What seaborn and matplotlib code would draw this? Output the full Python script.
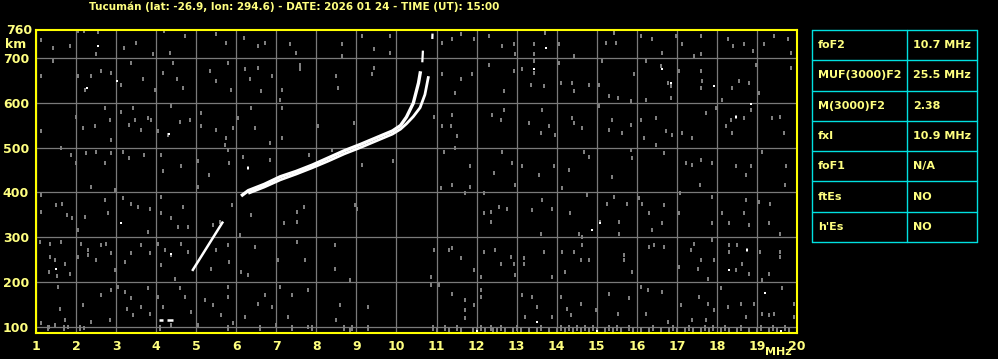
import matplotlib
matplotlib.use("Agg")
import matplotlib.pyplot as plt
import seaborn as sns
import pandas as pd
from matplotlib.lines import Line2D

sns.set_theme(style="ticks", rc={"axes.facecolor": "black", "figure.facecolor": "black"})
plt.rcParams["font.family"] = ["DejaVu Sans"]

TITLE = "Tucumán (lat: -26.9, lon: 294.6) - DATE: 2026 01 24 - TIME (UT): 15:00"
x_ticks = list(range(1, 21))
y_ticks = [100, 200, 300, 400, 500, 600, 700]

# ordinary (O) trace
o_freq = [6.12, 6.3, 6.7, 7.1, 7.5, 7.9, 8.3, 8.7, 9.1, 9.5, 9.9, 10.1, 10.25, 10.42, 10.55, 10.6]
o_km = [392, 404, 418, 435, 447, 461, 477, 493, 507, 522, 537, 549, 568, 599, 644, 670]
o_top_freq = [10.645, 10.66]
o_top_km = [690, 716]
# extraordinary (X) trace
x_freq = [6.3, 6.7, 7.1, 7.5, 7.9, 8.3, 8.7, 9.1, 9.5, 9.9, 10.1, 10.25, 10.42, 10.59, 10.71, 10.8]
x_km = [398, 412, 428, 441, 455, 470, 486, 500, 515, 530, 541, 553, 569, 589, 618, 659]
x_top_freq = [10.895, 10.9]
x_top_km = [742, 754]
# lower layer trace
low_freq = [4.9, 5.67]
low_km = [225, 335]
# small echoes near 115 km
dash1_freq = [4.08, 4.17]
dash1_km = [116, 116]
dash2_freq = [4.27, 4.42]
dash2_km = [116, 116]

# background speckle
noise_top_left = [
    (1.13, 740), (1.43, 722), (1.84, 726), (2.05, 760), (2.2, 760), (2.55, 757), (2.5, 709), (3.2, 722),
    (3.5, 733), (3.93, 709), (4.2, 760), (4.35, 710), (4.72, 749), (5.5, 752), (5.75, 733), (6.2, 745),
    (6.55, 726), (6.72, 733), (7.35, 730), (7.5, 711), (8.65, 730), (8.65, 704), (9.15, 748), (9.45, 719),
    (9.85, 748), (9.85, 711),
    (1.13, 659), (1.43, 693), (2.05, 659), (2.22, 629), (2.38, 659), (2.63, 670), (2.88, 667), (3.13, 640),
    (3.38, 689), (3.68, 652), (3.97, 629), (4.18, 667), (4.43, 689), (4.52, 652), (4.68, 633), (5.35, 670),
    (5.5, 648), (5.8, 689), (5.88, 629), (6.22, 674), (6.35, 652), (6.55, 678), (6.63, 625), (6.88, 659),
    (7.13, 629), (7.6, 685), (7.6, 674), (8.5, 659), (8.55, 633), (9.43, 678), (9.38, 663), (7.1, 606),
    (1.13, 536), (2.0, 569), (2.17, 543), (2.47, 547), (2.72, 588), (2.85, 562), (2.88, 517), (3.13, 580),
    (3.42, 588), (3.47, 562), (3.33, 551), (3.63, 539), (3.8, 565), (3.88, 562), (4.05, 536), (4.3, 528),
    (4.38, 592), (4.6, 558), (4.85, 562), (5.13, 577), (5.13, 547), (5.5, 539), (5.75, 521), (5.72, 506),
    (5.92, 543), (6.05, 565), (6.47, 543), (6.38, 588), (6.85, 510), (7.13, 521), (7.13, 588), (8.05, 547),
    (8.93, 554),
    (1.63, 499), (1.88, 484), (2.0, 465), (2.25, 487), (2.5, 490), (2.72, 465), (2.88, 487), (3.17, 490),
    (3.33, 476), (3.7, 484), (4.13, 484), (4.17, 447), (4.63, 458), (5.05, 469), (5.33, 439), (5.83, 465),
    (5.8, 495), (6.18, 480), (6.3, 454), (6.85, 472), (7.82, 484), (8.38, 495), (9.13, 461), (9.92, 469),
]
noise_top_right = [
    (11.13, 733), (11.38, 741), (11.6, 752), (11.93, 741), (12.3, 748), (12.63, 726), (12.93, 730),
    (12.97, 708), (13.43, 730), (13.43, 708), (13.72, 756), (14.05, 730), (14.43, 704), (15.22, 733),
    (15.47, 733), (15.43, 756), (16.1, 748), (16.38, 741), (16.63, 711), (16.97, 748), (17.13, 730),
    (17.43, 704), (17.6, 748), (17.6, 708), (18.27, 741), (18.4, 726), (18.68, 730), (18.9, 715),
    (19.18, 730), (19.43, 748), (19.77, 741), (19.85, 711),
    (11.13, 663), (11.6, 652), (11.88, 663), (11.47, 622), (12.3, 685), (12.68, 625), (12.93, 670),
    (13.13, 674), (13.35, 640), (13.43, 693), (13.43, 667), (13.68, 637), (14.05, 689), (14.1, 644),
    (14.38, 644), (14.43, 625), (14.8, 640), (15.05, 640), (15.13, 693), (15.3, 614), (15.52, 610),
    (15.85, 603), (15.93, 663), (16.22, 693), (16.22, 606), (16.6, 681), (16.77, 644), (16.85, 637),
    (16.85, 610), (17.05, 670), (17.6, 670), (17.63, 648), (17.6, 633), (18.38, 633), (18.55, 648),
    (18.8, 644), (18.97, 685), (19.05, 622), (19.85, 678), (18.13, 606),
    (10.93, 569), (11.13, 547), (11.35, 547), (11.38, 573), (11.5, 525), (12.38, 573), (12.6, 562),
    (12.68, 584), (13.3, 554), (13.63, 584), (13.8, 547), (13.6, 532), (13.97, 528), (14.38, 565),
    (14.43, 554), (14.63, 543), (15.05, 592), (15.38, 562), (15.3, 539), (15.63, 532), (15.85, 551),
    (16.1, 562), (16.18, 521), (16.47, 565), (16.72, 536), (16.88, 528), (17.13, 532), (17.38, 521),
    (17.72, 577), (17.97, 588), (18.22, 547), (18.35, 562), (18.47, 569), (18.38, 532), (18.68, 565),
    (18.85, 584), (19.38, 565), (19.58, 569), (19.67, 532),
    (11.18, 490), (11.47, 498), (11.84, 458), (12.43, 443), (12.63, 490), (12.88, 465), (13.13, 458),
    (13.55, 439), (13.93, 458), (14.3, 450), (14.68, 490), (14.8, 480), (15.38, 435), (15.85, 495),
    (15.88, 476), (16.47, 506), (16.68, 487), (17.22, 465), (17.38, 461), (17.6, 472), (17.88, 465),
    (18.47, 458), (18.72, 439), (18.85, 458), (19.13, 490), (19.72, 458),
]
noise_bottom_left = [
    (1.13, 394), (1.13, 357), (1.5, 372), (1.65, 375), (1.78, 350), (1.9, 342), (2.05, 316), (2.22, 346),
    (2.38, 413), (2.72, 383), (2.8, 353), (2.97, 405), (3.18, 387), (3.38, 375), (3.55, 368), (3.84, 364),
    (3.8, 312), (4.13, 390), (4.13, 353), (4.38, 342), (4.55, 323), (4.68, 368), (4.8, 323), (5.05, 413),
    (5.43, 327), (5.6, 335), (5.9, 372), (6.1, 305), (6.38, 350), (7.18, 331), (7.52, 357), (7.52, 335),
    (7.68, 368), (8.97, 372), (9.02, 364),
    (1.1, 290), (1.35, 286), (1.35, 256), (1.32, 223), (1.48, 249), (1.52, 214), (1.63, 290), (1.72, 241),
    (1.85, 219), (2.05, 256), (2.13, 286), (2.3, 271), (2.3, 260), (2.5, 249), (2.63, 282), (2.75, 286),
    (2.88, 264), (2.97, 227), (3.22, 245), (3.38, 264), (3.63, 282), (3.84, 264), (4.05, 286), (4.13, 238),
    (4.22, 271), (4.38, 260), (4.47, 208), (4.63, 286), (4.8, 268), (5.38, 230), (5.5, 271), (5.8, 282),
    (5.83, 245), (6.13, 223), (6.3, 215), (6.47, 279), (7.05, 249), (7.72, 249), (7.52, 290), (8.47, 282),
    (8.47, 230), (8.83, 204),
    (1.13, 108), (1.32, 100), (1.48, 104), (1.55, 190), (1.6, 141), (1.72, 115), (1.8, 100), (2.17, 149),
    (2.2, 97), (2.38, 111), (2.63, 171), (2.88, 183), (2.85, 115), (3.05, 190), (3.22, 179), (3.27, 141),
    (3.38, 164), (3.42, 126), (3.63, 145), (3.8, 186), (3.84, 130), (4.05, 167), (4.17, 145), (4.38, 104),
    (4.6, 186), (4.72, 167), (4.88, 134), (5.05, 104), (5.22, 160), (5.43, 149), (5.63, 126), (5.8, 190),
    (5.8, 167), (5.92, 108), (6.22, 123), (6.55, 152), (6.72, 171), (6.88, 145), (7.0, 104), (7.08, 190),
    (7.3, 123), (7.38, 171), (7.8, 100), (7.8, 183), (8.5, 115), (8.58, 149), (9.3, 145), (8.83, 93),
]
noise_bottom_right = [
    (11.1, 409), (11.38, 416), (11.84, 413), (11.72, 398), (12.18, 398), (12.18, 353), (12.35, 357),
    (12.35, 335), (12.55, 368), (12.77, 364), (12.97, 416), (13.38, 361), (13.63, 383), (13.6, 308),
    (13.88, 364), (14.13, 409), (14.33, 353), (14.55, 308), (14.63, 301), (14.75, 394), (15.08, 335),
    (15.25, 375), (15.42, 390), (15.55, 335), (15.55, 308), (15.75, 375), (16.05, 387), (16.13, 375),
    (16.3, 353), (16.38, 316), (16.63, 331), (16.67, 372), (17.05, 353), (17.08, 398), (17.58, 416),
    (17.88, 390), (17.88, 331), (17.88, 294), (18.13, 353), (18.3, 331), (18.68, 353), (18.72, 383),
    (18.8, 327), (19.05, 379), (19.3, 331), (19.33, 375), (19.58, 308), (19.7, 416),
    (10.85, 212), (10.93, 271), (11.3, 271), (11.38, 275), (11.6, 253), (11.93, 227), (12.1, 212),
    (12.18, 268), (12.47, 271), (12.6, 241), (12.85, 256), (12.93, 241), (12.97, 215), (13.18, 253),
    (13.18, 241), (13.68, 268), (13.88, 212), (14.13, 268), (14.22, 223), (14.43, 268), (14.6, 249),
    (14.63, 282), (14.8, 249), (15.68, 260), (15.68, 249), (15.88, 223), (16.3, 279), (16.43, 282),
    (16.67, 279), (17.05, 234), (17.35, 271), (17.43, 286), (17.52, 230), (17.6, 249), (17.77, 208),
    (17.93, 249), (18.3, 282), (18.3, 268), (18.5, 282), (18.75, 271), (18.63, 241), (18.47, 227),
    (18.8, 219), (19.08, 268), (19.13, 204), (19.3, 219), (19.58, 268), (19.58, 256),
    (10.85, 193), (11.05, 193), (11.38, 174), (11.72, 160), (11.72, 137), (11.72, 119), (11.93, 149),
    (12.1, 182), (12.1, 167), (13.13, 171), (13.38, 167), (13.5, 145), (13.22, 123), (13.88, 123),
    (14.1, 167), (14.27, 141), (14.35, 126), (14.6, 152), (14.97, 137), (15.3, 174), (15.52, 130),
    (15.8, 164), (16.1, 190), (16.22, 130), (16.27, 182), (16.63, 179), (16.77, 111), (17.1, 149),
    (17.38, 115), (17.55, 167), (17.72, 115), (17.77, 152), (17.93, 137), (18.1, 186), (18.27, 145),
    (18.6, 152), (18.72, 123), (18.93, 152), (19.13, 130), (19.3, 126), (19.43, 130), (19.63, 186),
    (19.92, 152), (19.92, 123),
]
floor_freq_a = [11.0, 11.3, 11.6, 11.9, 12.0, 12.2, 12.4, 12.5, 12.7, 12.9, 13.1, 13.3, 13.5, 13.8, 14.0,
                14.2, 14.4, 14.6, 14.8, 15.0, 15.2, 15.4, 15.6, 15.9, 16.1, 16.3, 16.6, 16.8, 17.0, 17.2,
                17.4, 17.6, 17.8, 18.1, 18.3, 18.5, 18.8, 19.0, 19.3, 19.5, 19.8]
floor_freq_b = [1.3, 1.7, 2.1, 4.1, 5.8, 6.6, 7.4, 7.9, 8.7, 8.9, 9.3, 10.9, 11.2, 11.5, 12.1, 12.35,
                12.6, 13.0, 13.6, 14.1, 14.3, 14.5, 14.7, 14.9, 15.3, 15.5, 15.8, 16.4, 16.9, 17.3,
                17.7, 17.9, 18.2, 18.6, 19.1, 19.4, 19.7]
bright_points = [
    (2.55, 726), (3.03, 648), (2.27, 633), (4.33, 530), (6.3, 454), (3.13, 332), (4.38, 262), (1.5, 230),
    (13.74, 722), (13.44, 674), (16.63, 674), (16.85, 644), (17.94, 638), (18.84, 598), (18.48, 567),
    (15.08, 332), (14.88, 317), (18.75, 271), (18.3, 228), (19.2, 176), (13.5, 111), (12.0, 90), (15.0, 92),
    (19.6, 90),
]

table_labels = ["foF2", "MUF(3000)F2", "M(3000)F2", "fxI", "foF1", "ftEs", "h'Es"]
table_values = ["10.7 MHz", "25.5 MHz", "2.38", "10.9 MHz", "N/A", "NO", "NO"]

YELLOW = "#ffff80"
SPINE = "#ffff00"
CYAN = "#00e0e0"
GRID = "#7a7a7a"
NOISE = "#7f7f7f"

fig = plt.figure(figsize=(9.98, 3.59), dpi=100)
W, H = 998, 359
ax = fig.add_axes([36 / W, 1 - 333 / H, (797 - 36) / W, (333 - 30) / H])
ax.set_facecolor("black")

noise_df = pd.DataFrame(noise_top_left + noise_top_right + noise_bottom_left + noise_bottom_right,
                        columns=["freq", "km"])
floor_df = pd.DataFrame({"freq": floor_freq_a + floor_freq_b,
                         "km": [92] * len(floor_freq_a) + [98] * len(floor_freq_b)})
bright_df = pd.DataFrame(bright_points, columns=["freq", "km"])

bar = [(-0.5, -1.2), (0.5, -1.2), (0.5, 1.2), (-0.5, 1.2)]
sns.scatterplot(data=noise_df, x="freq", y="km", ax=ax, color=NOISE, marker=bar, s=12,
                linewidth=0, zorder=2, legend=False)
sns.scatterplot(data=floor_df, x="freq", y="km", ax=ax, color=NOISE, marker=bar, s=20,
                linewidth=0, zorder=2, legend=False)
sns.scatterplot(data=bright_df, x="freq", y="km", ax=ax, color="white", marker="s", s=2.5,
                linewidth=0, zorder=3, legend=False)

def trace(fr, km, lw):
    sns.lineplot(x=fr, y=km, ax=ax, color="white", lw=lw, sort=False, estimator=None,
                 solid_capstyle="butt", zorder=4)

trace(o_freq, o_km, 2.4)
trace(x_freq, x_km, 2.0)
trace(o_top_freq, o_top_km, 1.6)
trace(x_top_freq, x_top_km, 1.6)
trace(low_freq, low_km, 1.8)
trace(dash1_freq, dash1_km, 1.8)
trace(dash2_freq, dash2_km, 1.8)

ax.set_xlim(1, 20)
ax.set_ylim(86.6, 762)
ax.set_xticks(x_ticks)
ax.set_yticks(y_ticks)
ax.grid(True, color=GRID, lw=0.9, zorder=1)
ax.set_axisbelow(True)
ax.set_xlabel("")
ax.set_ylabel("")
ax.tick_params(length=0, colors=YELLOW, labelsize=9, pad=5)
for lab in ax.get_xticklabels() + ax.get_yticklabels():
    lab.set_fontweight("bold")
    lab.set_color(YELLOW)
for sp in ax.spines.values():
    sp.set_color(SPINE)
    sp.set_linewidth(1.5)
    sp.set_visible(True)

fig.text(32 / W, 1 - 31 / H, "760", color=YELLOW, fontsize=9, fontweight="bold", ha="right", va="center")
fig.text(5 / W, 1 - 45 / H, "km", color=YELLOW, fontsize=9, fontweight="bold", ha="left", va="center")
fig.text(792 / W, 1 - 352 / H, "MHz", color=YELLOW, fontsize=8, fontweight="bold", ha="right", va="center")
fig.text(294 / W, 1 - 7 / H, TITLE, color=YELLOW, fontsize=7.5, fontweight="bold", ha="center", va="center")

# info table
tl, tr, tt, tb, tc = 812, 977, 30, 242, 907
rh = (tb - tt) / len(table_labels)
def fx(px):
    return px / W
def fy(py):
    return 1 - py / H
for i in range(len(table_labels) + 1):
    y = tt + i * rh
    fig.add_artist(Line2D([fx(tl), fx(tr)], [fy(y), fy(y)], color=CYAN, lw=1))
for xx in (tl, tc, tr):
    fig.add_artist(Line2D([fx(xx), fx(xx)], [fy(tt), fy(tb)], color=CYAN, lw=1))
for i, (lab, val) in enumerate(zip(table_labels, table_values)):
    yc = tt + (i + 0.5) * rh
    fig.text(fx(818), fy(yc), lab, color=YELLOW, fontsize=8, fontweight="bold", ha="left", va="center")
    fig.text(fx(913), fy(yc), val, color=YELLOW, fontsize=8, fontweight="bold", ha="left", va="center")

fig.savefig("out.png", dpi=100, facecolor="black")
